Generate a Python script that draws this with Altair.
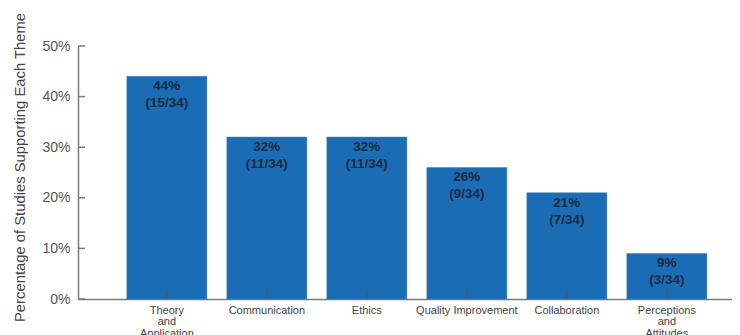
import altair as alt
import pandas as pd

themes = ["Theory\nand\nApplication", "Communication", "Ethics",
          "Quality Improvement", "Collaboration", "Perceptions\nand\nAttitudes"]
percents = [44, 32, 32, 26, 21, 9]
counts = ["15/34", "11/34", "11/34", "9/34", "7/34", "3/34"]
y_ticks = [0, 10, 20, 30, 40, 50]

df = pd.DataFrame({
    "theme": themes,
    "pct": percents,
    "pct_label": [f"{p}%" for p in percents],
    "count_label": [f"({c})" for c in counts],
})
ticks_df = pd.DataFrame({"pct": y_ticks})

FONT = "Liberation Sans"
BAR = "#1a6db5"
TXT = "#1c2a3f"
AX = "#7a7a7a"
H = 253

xs = alt.Scale(domain=themes, paddingInner=0.2, paddingOuter=0.37, align=0.66)
ys = alt.Scale(domain=[0, 50], nice=False)

x_axis = alt.Axis(title=None, labelAngle=0, ticks=False,
                  labelExpr="split(datum.label, '\\n')",
                  labelFontSize=11, labelColor="#444",
                  labelLineHeight=11.5, labelPadding=5,
                  domainColor=AX, domainWidth=1.5, labelFont=FONT)
y_axis = alt.Axis(title="Percentage of Studies Supporting Each Theme",
                  values=y_ticks, ticks=False, grid=False,
                  labelExpr="datum.value + '%'",
                  labelFontSize=14, labelColor="#555", labelPadding=8,
                  labelFont=FONT, titleFont=FONT, titleFontSize=14.8,
                  titleFontWeight="normal", titleColor="#444",
                  titleX=-51, titleY=121,
                  domainColor=AX, domainWidth=1.5)

X = alt.X("theme:N", sort=themes, scale=xs, axis=x_axis)
Y = alt.Y("pct:Q", scale=ys, axis=y_axis)

bars = alt.Chart(df).mark_bar(color=BAR, stroke="#3f7fc0", strokeWidth=0.5).encode(
    x=X, y=Y,
)

t1 = alt.Chart(df).mark_text(font=FONT, fontSize=13.5, fontWeight="bold",
                             color=TXT, baseline="middle", dy=10).encode(
    x=X, y=Y, text="pct_label:N",
)
t2 = alt.Chart(df).mark_text(font=FONT, fontSize=13.5, fontWeight="bold",
                             color=TXT, baseline="middle", dy=27).encode(
    x=X, y=Y, text="count_label:N",
)

xticks = alt.Chart(df).mark_rule(color="#555", strokeWidth=1).encode(
    x=X,
    y=alt.value(H),
    y2=alt.value(H - 8),
)
yticks = alt.Chart(ticks_df).mark_rule(color=AX, strokeWidth=1.5).encode(
    y=Y,
    x=alt.value(0),
    x2=alt.value(7),
)

chart = alt.layer(bars, t1, t2, xticks, yticks).properties(
    width=654, height=H,
    autosize=alt.AutoSizeParams(type="none"),
    padding={"left": 70, "top": 38, "right": 0, "bottom": 42},
).configure(background="white").configure_view(stroke=None)

chart.save("out.html", embed_options={"renderer": "svg", "actions": False})
